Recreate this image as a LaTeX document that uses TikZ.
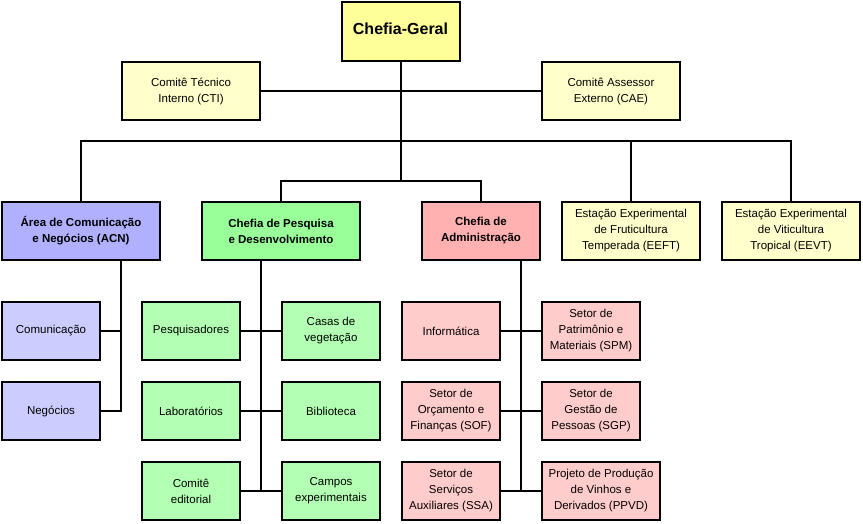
\documentclass[tikz,border=0pt]{standalone}
\usepackage{fontspec}
\setmainfont{Liberation Sans}
\definecolor{cgfill}{RGB}{255,255,153}
\definecolor{yfill}{RGB}{255,255,204}
\definecolor{bdark}{RGB}{176,176,255}
\definecolor{blight}{RGB}{204,204,255}
\definecolor{gdark}{RGB}{153,255,153}
\definecolor{glight}{RGB}{179,255,179}
\definecolor{rdark}{RGB}{255,176,176}
\definecolor{rlight}{RGB}{255,204,204}
\tikzset{
  box/.style={draw=black, line width=2pt, align=center, inner sep=1pt,
    font=\fontsize{11.5}{16}\selectfont},
  bigbox/.style={box, minimum width=158pt, minimum height=58pt},
  midbox/.style={box, minimum width=138pt, minimum height=58pt},
  smallbox/.style={box, minimum width=98pt, minimum height=58pt},
  boldtxt/.style={font=\fontsize{11.5}{16}\selectfont\bfseries},
  conn/.style={draw=black, line width=2pt}
}
\begin{document}
\begin{tikzpicture}[x=1pt,y=-1pt]
\useasboundingbox (0,0) rectangle (863,523);
% top
\node[box, fill=cgfill, minimum width=118pt, minimum height=59pt, font=\fontsize{16}{20}\selectfont\bfseries] (cg) at (400.5,31) {\raisebox{4pt}{Chefia-Geral}};
\node[midbox, fill=yfill] (cti) at (191,91) {Comitê Técnico\\Interno (CTI)};
\node[midbox, fill=yfill] (cae) at (611,91) {Comitê Assessor\\Externo (CAE)};
% level 2
\node[bigbox, fill=bdark, boldtxt] (acn) at (81,231) {Área de Comunicação\\e Negócios (ACN)};
\node[bigbox, fill=gdark, boldtxt] (cpd) at (281,231) {Chefia de Pesquisa\\e Desenvolvimento};
\node[box, minimum width=118pt, minimum height=58pt, fill=rdark, boldtxt] (ca) at (481,231) {Chefia de\\Administração};
\node[midbox, fill=yfill] (eeft) at (631,231) {Estação Experimental\\de Fruticultura\\Temperada (EEFT)};
\node[midbox, fill=yfill] (eevt) at (791,231) {Estação Experimental\\de Viticultura\\Tropical (EEVT)};
% ACN children
\node[smallbox, fill=blight] (com) at (51,331) {Comunicação};
\node[smallbox, fill=blight] (neg) at (51,411) {Negócios};
% CPD children
\node[smallbox, fill=glight] (pesq) at (191,331) {Pesquisadores};
\node[smallbox, fill=glight] (casas) at (331,331) {Casas de\\vegetação};
\node[smallbox, fill=glight] (lab) at (191,411) {Laboratórios};
\node[smallbox, fill=glight] (bib) at (331,411) {Biblioteca};
\node[smallbox, fill=glight] (ced) at (191,491) {Comitê\\editorial};
\node[smallbox, fill=glight] (campos) at (331,491) {Campos\\experimentais};
% CA children
\node[smallbox, fill=rlight] (info) at (451,331) {Informática};
\node[smallbox, fill=rlight] (spm) at (591,331) {Setor de\\Patrimônio e\\Materiais (SPM)};
\node[smallbox, fill=rlight] (sof) at (451,411) {Setor de\\Orçamento e\\Finanças (SOF)};
\node[smallbox, fill=rlight] (sgp) at (591,411) {Setor de\\Gestão de\\Pessoas (SGP)};
\node[smallbox, fill=rlight] (ssa) at (451,491) {Setor de\\Serviços\\Auxiliares (SSA)};
\node[box, minimum width=118pt, minimum height=58pt, fill=rlight] (ppvd) at (601,491) {Projeto de Produção\\de Vinhos e\\Derivados (PPVD)};
% junctions
\coordinate (j2) at (401,141);
\coordinate (j3) at (401,181);
\coordinate (av) at ([xshift=40pt]acn.south);
\coordinate (pv) at ([xshift=-20pt]cpd.south);
\coordinate (cv) at ([xshift=40pt]ca.south);
% connectors
\draw[conn] (cg.south -| j3) -- (j3);
\draw[conn] (cti.east) -- (cae.west);
\draw[conn] (acn.north) |- (j2) -| (eevt.north);
\draw[conn] (eeft.north) |- (j2);
\draw[conn] (cpd.north) |- (j3) -| (ca.north);
\draw[conn] (av) |- (neg.east);
\draw[conn] (com.east) -- (com.east -| av);
\draw[conn] (pv) -- (pv |- ced.east);
\draw[conn] (pesq.east) -- (casas.west);
\draw[conn] (lab.east) -- (bib.west);
\draw[conn] (ced.east) -- (campos.west);
\draw[conn] (cv) -- (cv |- ssa.east);
\draw[conn] (info.east) -- (spm.west);
\draw[conn] (sof.east) -- (sgp.west);
\draw[conn] (ssa.east) -- (ppvd.west);
\end{tikzpicture}
\end{document}
